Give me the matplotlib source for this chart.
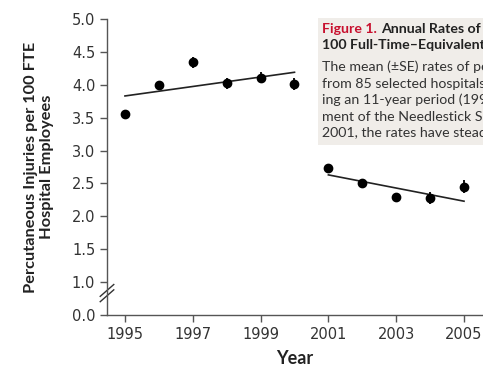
import matplotlib.pyplot as plt
from matplotlib.patches import Rectangle
from matplotlib.lines import Line2D

plt.rcParams['font.family'] = ['DejaVu Sans']
CAP_FONT = ['Lato', 'DejaVu Sans']

# ---- data ----
years = [1995, 1996, 1997, 1998, 1999, 2000, 2001, 2002, 2003, 2004, 2005]
rates = [3.55, 3.99, 4.34, 4.02, 4.11, 4.01, 2.73, 2.50, 2.29, 2.28, 2.45]
errs = [0.07, 0.07, 0.08, 0.08, 0.09, 0.09, 0.07, 0.06, 0.05, 0.09, 0.10]

# fitted trend lines (pre / post 2001)
trend1_x = [1995, 2000]
trend1_y = [3.83, 4.19]
trend2_x = [2001, 2005]
trend2_y = [2.63, 2.23]

yticks = [0.5, 1.0, 1.5, 2.0, 2.5, 3.0, 3.5, 4.0, 4.5, 5.0]
ytick_labels = ['0.0', '1.0', '1.5', '2.0', '2.5', '3.0', '3.5', '4.0', '4.5', '5.0']
xticks = [1995, 1997, 1999, 2001, 2003, 2005]

W, H = 483, 368
fig = plt.figure(figsize=(W / 100, H / 100), dpi=100)
ax = fig.add_axes([107 / W, 1 - 315 / H, 1 - 107 / W, 296 / H])

ax.errorbar(years, rates, yerr=errs, fmt='o', color='black', ms=6,
            elinewidth=1.3, capsize=0, zorder=3)
ax.plot(trend1_x, trend1_y, color='#222222', lw=1.2)
ax.plot(trend2_x, trend2_y, color='#222222', lw=1.2)

ax.set_xlim(1994.47, 2005.56)
ax.set_ylim(0.5, 5.0)
ax.set_yticks(yticks)
ax.set_yticklabels(ytick_labels)
ax.set_xticks(xticks)

for s in ['top', 'right']:
    ax.spines[s].set_visible(False)
for s in ['left', 'bottom']:
    ax.spines[s].set_color('#555555')
    ax.spines[s].set_linewidth(1.0)
ax.tick_params(colors='#555555', labelcolor='#333333', labelsize=10.5,
               length=5, width=1.0)

ax.set_xlabel('Year', fontsize=13, fontweight='bold', color='#222222',
              labelpad=6, family=CAP_FONT)
ax.set_ylabel('Percutaneous Injuries per 100 FTE\nHospital Employees',
              fontsize=11.8, fontweight='bold', color='#222222', labelpad=13,
              linespacing=1.15, family=CAP_FONT)

# axis break marks on the y spine
for dy in (0.0, 0.018):
    ax.add_line(Line2D([-0.018, 0.018], [0.045 + dy, 0.085 + dy],
                       transform=ax.transAxes, color='#333333', lw=1.0,
                       clip_on=False))

# caption panel (cropped at right edge)
fig.patches.append(Rectangle((318 / W, 1 - 145 / H), (W - 318) / W, 127 / H,
                             transform=fig.transFigure, facecolor='#f0ede9',
                             edgecolor='none', zorder=0))
red = fig.text(322 / W, 1 - 29 / H, 'Figure 1.', color='#c8102e', fontsize=10.2,
               fontweight='bold', va='center', family=CAP_FONT)
fig.canvas.draw()
red_end = red.get_window_extent().x1
fig.text((red_end + 4) / W, 1 - 29 / H, 'Annual Rates of Percutaneous Injuries per',
         color='#222222', fontsize=10.2, fontweight='bold', va='center',
         family=CAP_FONT)
fig.text(322 / W, 1 - 45 / H, '100 Full-Time\u2013Equivalent (FTE) Hospital Employees',
         color='#222222', fontsize=10.2, fontweight='bold', va='center',
         family=CAP_FONT)
body = ['The mean (\u00b1SE) rates of percutaneous injuries',
        'from 85 selected hospitals are shown dur-',
        'ing an 11-year period (1995 to 2005). Since enact-',
        'ment of the Needlestick Safety and Prevention Act in',
        '2001, the rates have steadily declined.']
for i, line in enumerate(body):
    fig.text(322 / W, 1 - (67 + i * 16.6) / H, line, color='#333333',
             fontsize=10.2, va='center', family=CAP_FONT)

fig.savefig('out.png', dpi=100)
